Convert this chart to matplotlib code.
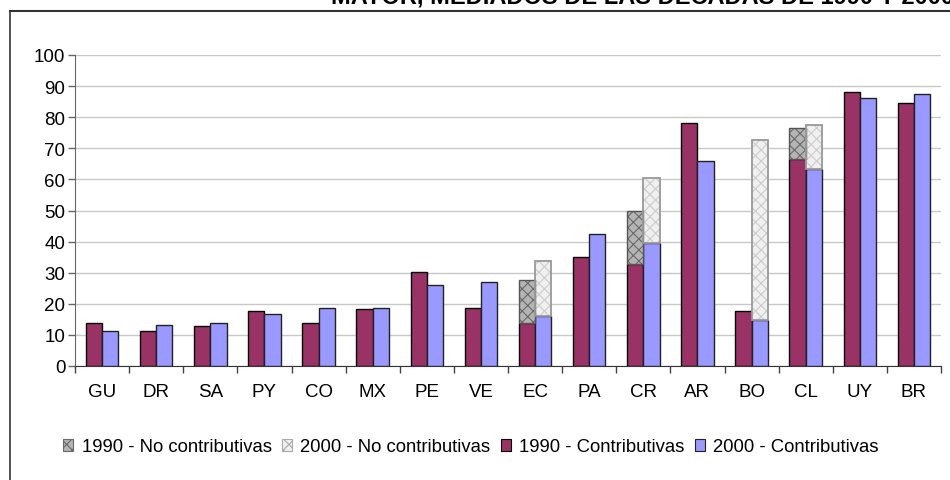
import numpy as np
import matplotlib.pyplot as plt
from matplotlib.patches import Patch
from matplotlib.lines import Line2D

plt.rcParams['font.family'] = ['Liberation Sans', 'DejaVu Sans']
plt.rcParams['hatch.linewidth'] = 0.8

paises = ['GU', 'DR', 'SA', 'PY', 'CO', 'MX', 'PE', 'VE', 'EC', 'PA', 'CR', 'AR', 'BO', 'CL', 'UY', 'BR']
contrib_1990 = [13.8, 11.1, 12.8, 17.6, 13.8, 18.3, 30.3, 18.8, 13.8, 35.2, 32.9, 78.1, 17.6, 66.6, 88.0, 84.7]
contrib_2000 = [11.1, 13.3, 13.8, 16.6, 18.8, 18.8, 25.9, 26.9, 16.0, 42.4, 39.6, 65.9, 14.8, 63.2, 86.3, 87.5]
nocontrib_1990 = [0, 0, 0, 0, 0, 0, 0, 0, 13.8, 0, 17.1, 0, 0, 9.9, 0, 0]
nocontrib_2000 = [0, 0, 0, 0, 0, 0, 0, 0, 17.7, 0, 20.9, 0, 57.8, 14.3, 0, 0]

c90 = '#993366'
c00 = '#9999ff'

fig = plt.figure(figsize=(9.5, 4.81), dpi=100)
ax = fig.add_axes([75 / 950, 1 - 367 / 481, 866 / 950, 311 / 481])

x = np.arange(len(paises))
w = 0.3
x90 = x - w / 2
x00 = x + w / 2

ax.bar(x90, contrib_1990, w, color=c90, edgecolor='black', linewidth=1, zorder=3)
ax.bar(x00, contrib_2000, w, color=c00, edgecolor='#222222', linewidth=1, zorder=3)

# no contributivas: fill + hatch, then outline
nc90 = np.array(nocontrib_1990)
nc00 = np.array(nocontrib_2000)
m90 = nc90 > 0
m00 = nc00 > 0
ax.bar(x90[m90], nc90[m90], w, bottom=np.array(contrib_1990)[m90], color='#b4b4b4',
       edgecolor='#6a6a6a', hatch='xxx', linewidth=0, zorder=3)
ax.bar(x90[m90], nc90[m90], w, bottom=np.array(contrib_1990)[m90], fill=False,
       edgecolor='#555555', linewidth=1, zorder=4)
ax.bar(x00[m00], nc00[m00], w, bottom=np.array(contrib_2000)[m00], color='#f0f0f0',
       edgecolor='#cccccc', hatch='xxx', linewidth=0, zorder=3)
ax.bar(x00[m00], nc00[m00], w, bottom=np.array(contrib_2000)[m00], fill=False,
       edgecolor='#999999', linewidth=1.3, zorder=4)

ax.set_xlim(-0.5, len(paises) - 0.5)
ax.set_ylim(0, 100)
ax.set_yticks(np.arange(0, 101, 10))
ax.yaxis.grid(True, color='#c8c8c8', linewidth=1)
ax.set_axisbelow(True)

ax.set_xticks(x)
ax.set_xticklabels(paises)
ax.set_xticks(np.arange(-0.5, len(paises), 1), minor=True)
ax.tick_params(axis='x', which='major', length=0, pad=12, labelsize=13.5)
ax.tick_params(axis='x', which='minor', length=5, width=1, color='#444444')
ax.tick_params(axis='y', length=5, width=1, color='#666666', labelsize=13.5, pad=2)

for s in ['top', 'right']:
    ax.spines[s].set_visible(False)
ax.spines['left'].set_color('#666666')
ax.spines['bottom'].set_color('#333333')

handles = [
    Patch(facecolor='#b4b4b4', edgecolor='#6a6a6a', hatch='xxx', linewidth=0.8),
    Patch(facecolor='#f0f0f0', edgecolor='#aaaaaa', hatch='xxx', linewidth=0.8),
    Patch(facecolor=c90, edgecolor='black', linewidth=0.8),
    Patch(facecolor=c00, edgecolor='#222222', linewidth=0.8),
]
labels = ['1990 - No contributivas', '2000 - No contributivas',
          '1990 - Contributivas', '2000 - Contributivas']
fig.legend(handles, labels, loc='center left', bbox_to_anchor=(54 / 950, 1 - 448 / 481),
           ncol=4, frameon=False, fontsize=13.3, handlelength=0.55, handleheight=0.55,
           handletextpad=0.45, columnspacing=0.55, borderpad=0)

# marco del gráfico y título recortado
fig.add_artist(Line2D([10 / 950, 10 / 950], [1 - 12 / 481, 0], color='#333333', linewidth=1.2))
fig.add_artist(Line2D([10 / 950, 1], [1 - 12 / 481, 1 - 12 / 481], color='#333333', linewidth=1.5))
fig.text(331 / 950, 1 - 4 / 481, 'MAYOR, MEDIADOS DE LAS DÉCADAS DE 1990 Y 2000',
         fontsize=17, fontweight='bold', ha='left', va='baseline')

fig.savefig('out.png', dpi=100)
